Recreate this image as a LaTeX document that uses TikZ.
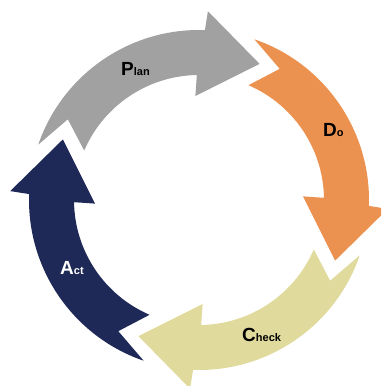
\documentclass[tikz,border=0pt]{standalone}
\usepackage{fontspec}
\setmainfont{Liberation Sans}
\definecolor{plangray}{RGB}{161,161,161}
\definecolor{doorange}{RGB}{236,146,80}
\definecolor{checkyellow}{RGB}{224,218,157}
\definecolor{actnavy}{RGB}{31,41,87}
\newcommand\pdcaArrow[2]{%
  \fill[#2] ({#1+90.7}:125pt) -- ({#1+82.4}:154pt) -- ({#1+95}:170pt)
    arc[start angle={#1+95}, end angle={#1+22}, radius=170pt]
    -- ({#1+21.3}:189pt) -- ({#1}:149pt) -- ({#1+26}:104pt) -- ({#1+25}:125pt)
    arc[start angle={#1+25}, end angle={#1+90.7}, radius=125pt] -- cycle;}
\begin{document}
\begin{tikzpicture}[x=1pt,y=1pt,
  lbl/.style={anchor=base west, inner sep=0pt, font=\bfseries}]
\useasboundingbox (0,0) rectangle (381,386);
\clip (0,0) rectangle (381,386);
\begin{scope}[shift={(199pt,186pt)}]
  \pdcaArrow{66}{plangray}
  \pdcaArrow{-24}{doorange}
  \pdcaArrow{246}{checkyellow}
  \pdcaArrow{156}{actnavy}
\end{scope}
\node[lbl] (plan) at (121,310) {\fontsize{19}{19}\selectfont P\fontsize{11}{11}\selectfont lan};
\node[lbl] (do) at (323,249) {\fontsize{19}{19}\selectfont D\fontsize{11}{11}\selectfont o};
\node[lbl] (check) at (242,44) {\fontsize{19}{19}\selectfont C\fontsize{11}{11}\selectfont heck};
\node[lbl, text=white] (act) at (60,111) {\fontsize{19}{19}\selectfont A\fontsize{11}{11}\selectfont ct};
\end{tikzpicture}
\end{document}
